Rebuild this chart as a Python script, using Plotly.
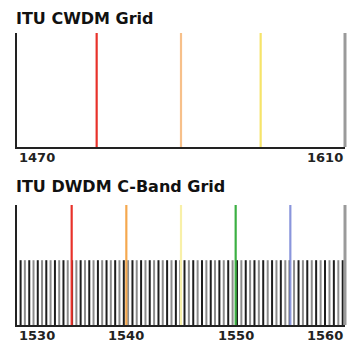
import plotly.graph_objects as go

# ---- data ----
cwdm_title = "ITU CWDM Grid"
dwdm_title = "ITU DWDM C-Band Grid"

cwdm_range = [1470, 1610]
cwdm_lines = [1504, 1540, 1574]
cwdm_colors = ["#e8322a", "#f7c08a", "#f6e46a"]
cwdm_tick_vals = [1470, 1610]
cwdm_tick_text = ["1470", "1610"]

dwdm_range = [1530, 1560]
dwdm_channels = [
    1530.33, 1530.72, 1531.12, 1531.51, 1531.90, 1532.29, 1532.68, 1533.07,
    1533.47, 1533.86, 1534.25, 1534.64, 1535.04, 1535.43, 1535.82, 1536.22,
    1536.61, 1537.00, 1537.40, 1537.79, 1538.19, 1538.58, 1538.98, 1539.37,
    1539.77, 1540.16, 1540.56, 1540.95, 1541.35, 1541.75, 1542.14, 1542.54,
    1542.94, 1543.33, 1543.73, 1544.13, 1544.53, 1544.92, 1545.32, 1545.72,
    1546.12, 1546.52, 1546.92, 1547.32, 1547.72, 1548.11, 1548.51, 1548.91,
    1549.32, 1549.72, 1550.12, 1550.52, 1550.92, 1551.32, 1551.72, 1552.12,
    1552.52, 1552.93, 1553.33, 1553.73, 1554.13, 1554.54, 1554.94, 1555.34,
    1555.75, 1556.15, 1556.55, 1556.96, 1557.36, 1557.77, 1558.17, 1558.58,
    1558.98, 1559.39, 1559.79,
]
dwdm_channel_height = 0.54
dwdm_lines = [1535, 1540, 1545, 1550, 1555]
dwdm_colors = ["#e8322a", "#f5a84e", "#f8f0a8", "#3cb043", "#8a96dc"]
dwdm_tick_vals = [1530, 1540, 1550, 1560]
dwdm_tick_text = ["1530", "1540", "1550", "1560"]

# ---- figure ----
fig = go.Figure()


def vlines(xs, h, color, width, xaxis, yaxis):
    X, Y = [], []
    for v in xs:
        X += [v, v, None]
        Y += [0, h, None]
    fig.add_trace(go.Scatter(x=X, y=Y, mode="lines", line=dict(color=color, width=width),
                             xaxis=xaxis, yaxis=yaxis, showlegend=False, hoverinfo="skip"))


# top panel
for v, c in zip(cwdm_lines, cwdm_colors):
    vlines([v], 1, c, 2.2, "x", "y")

# bottom panel: channel lines alternating dark / grey
vlines(dwdm_channels[0::2], dwdm_channel_height, "#1e1e1e", 2, "x2", "y2")
vlines(dwdm_channels[1::2], dwdm_channel_height, "#8c8c8c", 2, "x2", "y2")
for v, c in zip(dwdm_lines, dwdm_colors):
    vlines([v], 1, c, 2.2, "x2", "y2")

W, H = 360, 345
xd = [17 / W, 345 / W]
top_dom = [1 - 147 / H, 1 - 33 / H]
bot_dom = [1 - 325 / H, 1 - 205 / H]

axis_common = dict(showgrid=False, zeroline=False, showticklabels=False, ticks="",
                   showline=True, linecolor="#222", linewidth=2)

fig.update_layout(
    width=W, height=H,
    margin=dict(l=0, r=0, t=0, b=0),
    paper_bgcolor="white", plot_bgcolor="white",
    xaxis=dict(domain=xd, range=cwdm_range, anchor="y", **axis_common),
    yaxis=dict(domain=top_dom, range=[0, 1], anchor="x", **axis_common),
    xaxis2=dict(domain=xd, range=dwdm_range, anchor="y2", **axis_common),
    yaxis2=dict(domain=bot_dom, range=[0, 1], anchor="x2", **axis_common),
    font=dict(family="DejaVu Sans", color="#111"),
)

# right-hand grey frame edges
for yr in ["y domain", "y2 domain"]:
    xr = "x domain" if yr == "y domain" else "x2 domain"
    fig.add_shape(type="line", xref=xr, yref=yr, x0=1, x1=1, y0=0, y1=1,
                  line=dict(color="#9a9a9a", width=3))

# titles
fig.add_annotation(text="<b>%s</b>" % cwdm_title, xref="paper", yref="paper",
                   x=14 / W, y=1 - 18 / H, xanchor="left", yanchor="middle",
                   showarrow=False, font=dict(size=16, family="DejaVu Sans", color="#111"))
fig.add_annotation(text="<b>%s</b>" % dwdm_title, xref="paper", yref="paper",
                   x=14 / W, y=1 - 186 / H, xanchor="left", yanchor="middle",
                   showarrow=False, font=dict(size=16, family="DejaVu Sans", color="#111"))


def ticklabels(vals, texts, xref, y_px):
    n = len(vals)
    for i, (v, t) in enumerate(zip(vals, texts)):
        anchor = "left" if i == 0 else ("right" if i == n - 1 else "center")
        fig.add_annotation(text="<b>%s</b>" % t, xref=xref, yref="paper", x=v, y=1 - y_px / H,
                           xanchor=anchor, yanchor="middle", showarrow=False,
                           font=dict(size=13, family="DejaVu Sans", color="#222"))


ticklabels(cwdm_tick_vals, cwdm_tick_text, "x", 158)
ticklabels(dwdm_tick_vals, dwdm_tick_text, "x2", 335)

fig.write_html("out.html", config={"displayModeBar": False, "staticPlot": True},
               post_script="document.body.style.margin='0';document.body.style.overflow='hidden';")
